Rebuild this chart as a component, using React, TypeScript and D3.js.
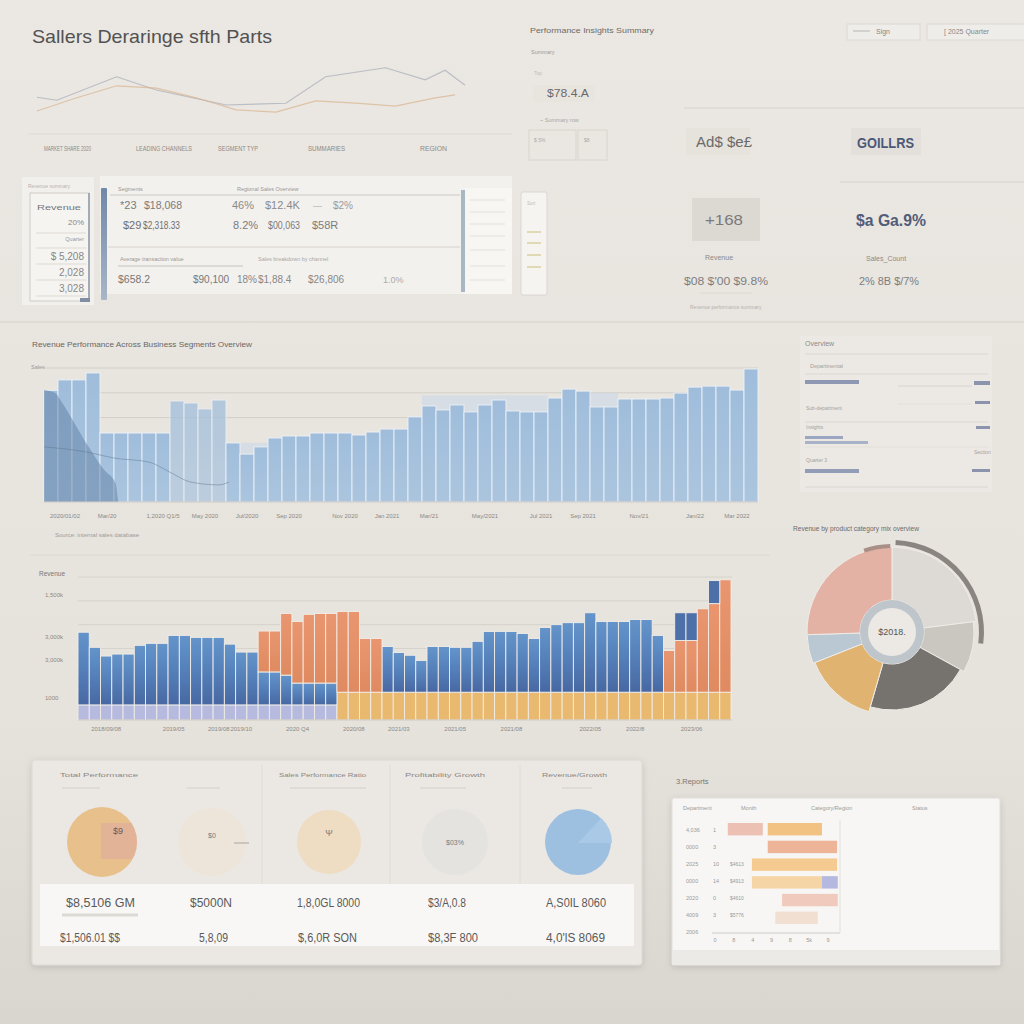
import React from "react";
import * as d3 from "d3";

const FONT = "'Liberation Sans', 'DejaVu Sans', Arial, sans-serif";

// ---------- Top trend lines ----------
const trendDaysA = [0, 4, 8, 12, 16, 20, 24, 28, 32, 36, 40, 42];
const trendValuesA = [15, 37, 57, 53, 37, 17, 13, 32, 28, 23, 37, 42];
const trendDaysB = [0, 2, 8, 12, 19, 25, 29, 35, 39, 41, 43];
const trendValuesB = [38, 33, 72, 50, 25, 28, 72, 87, 67, 83, 58];

// ---------- Sales histogram ----------
const salesBars = [
  4500, 4920, 4920, 5200, 2780, 2780, 2780, 2780, 2780, 4070,
  3990, 3750, 4110, 2380, 1930, 2220, 2580, 2660, 2660, 2780,
  2780, 2780, 2700, 2820, 2940, 2940, 3430, 3870, 3710, 3910,
  3630, 3910, 4110, 3670, 3630, 3630, 4190, 4550, 4470, 3830,
  3830, 4150, 4150, 4150, 4190, 4390, 4630, 4670, 4670, 4510,
  5360,
];
const salesGhost = [
  0, 0, 0, 0, 0, 0, 0, 0, 0, 0,
  0, 0, 0, 2380, 2380, 2380, 0, 0, 0, 0,
  0, 0, 0, 0, 0, 0, 0, 4300, 4300, 4300,
  4300, 4300, 4300, 4300, 4300, 4300, 0, 0, 0, 4400,
  4400, 0, 0, 0, 0, 0, 0, 0, 0, 0,
  0,
];
const overlayPos = [0, 0.8, 1.3, 3.1, 4.3, 5.1, 5.3];
const overlayVals = [4510, 4390, 3990, 2300, 1290, 770, 0];
const baseTrendPos = [0, 3, 5, 7.5, 9, 10.5, 12.5, 13.2];
const baseTrendVals = [2220, 2020, 1770, 1610, 1200, 800, 690, 800];
const salesGrid = [3400, 4400, 5400];
const salesLabelIdx = [1, 4, 8, 11, 14, 17, 21, 24, 27, 31, 35, 38, 42, 46, 49];
const salesLabels = [
  "2020/01/02", "Mar/20", "1,2020 Q1/5", "May 2020", "Jul/2020", "Sep 2020", "Nov 2020",
  "Jan 2021", "Mar/21", "May/2021", "Jul 2021", "Sep 2021", "Nov/21", "Jan/22", "Mar 2022",
];

// ---------- Stacked revenue ----------
const stackLavender = [
  380, 380, 380, 380, 380, 380, 380, 380, 380, 380,
  380, 380, 380, 380, 380, 380, 380, 380, 380, 380,
  380, 380, 380, 0, 0, 0, 0, 0, 0, 0,
  0, 0, 0, 0, 0, 0, 0, 0, 0, 0,
  0, 0, 0, 0, 0, 0, 0, 0, 0, 0,
  0, 0, 0, 0, 0, 0, 0, 0,
];
const stackGold = [
  0, 0, 0, 0, 0, 0, 0, 0, 0, 0,
  0, 0, 0, 0, 0, 0, 0, 0, 0, 0,
  0, 0, 0, 700, 700, 700, 700, 700, 700, 700,
  700, 700, 700, 700, 700, 700, 700, 700, 700, 700,
  700, 700, 700, 700, 700, 700, 700, 700, 700, 700,
  700, 700, 700, 700, 700, 700, 700, 700,
];
const stackBlue = [
  1830, 1450, 1230, 1280, 1280, 1500, 1550, 1550, 1750, 1750,
  1700, 1700, 1700, 1530, 1330, 1330, 830, 830, 750, 550,
  550, 550, 550, 0, 0, 0, 0, 1150, 1000, 930,
  800, 1150, 1150, 1130, 1130, 1280, 1530, 1530, 1530, 1480,
  1350, 1630, 1700, 1750, 1750, 2000, 1780, 1780, 1780, 1830,
  1830, 1430, 0, 0, 0, 0, 0, 0,
];
const stackCoral = [
  0, 0, 0, 0, 0, 0, 0, 0, 0, 0,
  0, 0, 0, 0, 0, 0, 1030, 1030, 1550, 1550,
  1730, 1750, 1750, 2030, 2030, 1350, 1350, 0, 0, 0,
  0, 0, 0, 0, 0, 0, 0, 0, 0, 0,
  0, 0, 0, 0, 0, 0, 0, 0, 0, 0,
  0, 0, 1050, 1300, 1300, 2100, 2230, 2830,
];
const stackBlueTop = [
  0, 0, 0, 0, 0, 0, 0, 0, 0, 0,
  0, 0, 0, 0, 0, 0, 0, 0, 0, 0,
  0, 0, 0, 0, 0, 0, 0, 0, 0, 0,
  0, 0, 0, 0, 0, 0, 0, 0, 0, 0,
  0, 0, 0, 0, 0, 0, 0, 0, 0, 0,
  0, 0, 0, 700, 700, 0, 580, 0,
];
const revenueGrid = [1800, 2400, 3000, 3600];
const revenueTickVals = [3150, 2100, 1500, 550];
const revenueTickLabels = ["1,500k", "3,000k", "3,000k", "1000"];
const revenueLabelIdx = [2, 8, 12, 14, 19, 24, 28, 33, 38, 45, 49, 54];
const revenueLabels = [
  "2018/09/08", "2019/05", "2019/08", "2019/10", "2020 Q4", "2020/08",
  "2021/03", "2021/05", "2021/08", "2022/05", "2022/8", "2023/06",
];

// ---------- Donut ----------
const mixCategories = ["Services", "Hardware", "Software", "Accessories", "Support", "Licensing"];
const mixShares = [23, 10, 21.5, 14.5, 5.5, 25.5];

// ---------- KPI circles ----------
const kpiTitles = ["Total Performance", "", "Sales Performance Ratio", "Profitability Growth", "Revenue/Growth"];
const kpiRow1 = ["$8,5106 GM", "$5000N", "1,8,0GL 8000", "$3/A,0.8", "A,S0IL 8060"];
const kpiRow2 = ["$1,506.01 $$", "5,8,09", "$,6,0R SON", "$8,3F 800", "4,0'lS 8069"];

// ---------- Report heat table ----------
const reportRowLabels = ["4,036", "0000", "2025", "0000", "2020", "4009", "2006"];
const reportCounts = ["1", "3", "10", "14", "0", "3", ""];
const reportAmounts = ["", "", "$4613", "$4913", "$4610", "$5776", ""];
const reportTicks = [0, 5, 10, 15, 20, 25, 30];
const reportTickLabels = ["0", "8", "4", "9", "8", "5k", "9"];
const stripRow = [0, 0, 1, 2, 3, 3, 4, 5];
const stripFrom = [3.4, 14, 14, 9.8, 9.8, 28.4, 17.8, 16];
const stripTo = [12.7, 28.4, 32.4, 32.4, 28.4, 32.6, 32.6, 27.3];
const stripTone = ["#eab6a6", "#f1b86f", "#eca887", "#f3c27f", "#f5cf98", "#a9addb", "#efc3b3", "#f0dccb"];

export default function App() {
  // ---- top trend ----
  const lx = d3.scaleLinear().domain([0, 44]).range([37, 475]);
  const ly = d3.scaleLinear().domain([0, 100]).range([120, 60]);
  const lineA = d3.line<number>().x((d, i) => lx(trendDaysA[i])).y((d) => ly(d)).curve(d3.curveLinear)(trendValuesA);
  const lineB = d3.line<number>().x((d, i) => lx(trendDaysB[i])).y((d) => ly(d)).curve(d3.curveLinear)(trendValuesB);

  // ---- sales histogram ----
  const sx = d3.scaleBand<number>().domain(d3.range(salesBars.length)).range([44, 758]).padding(0);
  const sk = d3.scaleLinear().domain([0, salesBars.length]).range([44, 758]);
  const sy = d3.scaleLinear().domain([0, 5400]).range([502, 368]);
  const overlayArea = d3
    .area<number>()
    .x((d, i) => sk(overlayPos[i]))
    .y0(sy(0))
    .y1((d) => sy(d))
    .curve(d3.curveMonotoneX)(overlayVals);
  const baseTrend = d3
    .line<number>()
    .x((d, i) => sk(baseTrendPos[i]))
    .y((d) => sy(d))
    .curve(d3.curveMonotoneX)(baseTrendVals);

  // ---- stacked ----
  const rows = stackBlue.map((_, i) => ({
    lav: stackLavender[i],
    gold: stackGold[i],
    blue: stackBlue[i],
    coral: stackCoral[i],
    blueTop: stackBlueTop[i],
  }));
  const keys = ["lav", "gold", "blue", "coral", "blueTop"];
  const fills: Record<string, string> = {
    lav: "#b6badf",
    gold: "#e9b96f",
    blue: "url(#gStackBlue)",
    coral: "url(#gCoral)",
    blueTop: "#4d70a8",
  };
  const stacked = d3.stack<any>().keys(keys)(rows);
  const rx = d3.scaleBand<number>().domain(d3.range(rows.length)).range([78, 731]).padding(0);
  const ry = d3.scaleLinear().domain([0, 3600]).range([720, 577]);

  // ---- donut ----
  const pie = d3.pie<number>().sort(null).startAngle(0).endAngle(2 * Math.PI).value((d) => d)(mixShares);
  const mixColors = ["#dddad5", "#cac7c0", "#76736f", "#e0b470", "#bac8d4", "#e3b2a4"];
  const mixOuter = [85, 82, 78, 83, 85, 85];
  const arcFor = (i: number) => d3.arc<any>().innerRadius(32).outerRadius(mixOuter[i]);
  const ringArc = d3.arc<any>().innerRadius(87).outerRadius(92).startAngle(0.04).endAngle(1.7)({});
  const smallArc = d3.arc<any>().innerRadius(84).outerRadius(88).startAngle(-0.33).endAngle(-0.02)({});

  // ---- report ----
  const hx = d3.scaleLinear().domain([0, 30]).range([715, 828]);
  const hy = d3.scaleBand<number>().domain(d3.range(6)).range([823, 924]).paddingInner(0.3);

  const kpiCx = [102, 212, 329, 455, 578];
  const kpiColors = ["#e8c08c", "#ede5da", "#eedcc3", "#e5e3e0", "#9dc0e0"];
  const kpiR = [35, 34, 32, 33, 33];
  const kpiRow1X = [66, 190, 297, 428, 546];
  const kpiRow1W = [69, 42, 63, 38, 60];
  const kpiRow2X = [60, 199, 298, 428, 546];
  const kpiRow2W = [60, 29, 59, 50, 59];
  const kpiTitleX = [60, 0, 279, 405, 542];
  const kpiTitleW = [78, 0, 87, 80, 65];

  const T = (p: any) => <text fontFamily={FONT} {...p} />;

  return (
    <svg width={1024} height={1024} style={{ position: "absolute", left: 0, top: 0, display: "block" }}>
      <defs>
        <linearGradient id="bg" x1="0" y1="0" x2="0" y2="1">
          <stop offset="0" stopColor="#ebe7e2" />
          <stop offset="0.7" stopColor="#e6e2dc" />
          <stop offset="1" stopColor="#d9d5cf" />
        </linearGradient>
        <linearGradient id="gSales" x1="0" y1="0" x2="0" y2="1">
          <stop offset="0" stopColor="#9fbddb" />
          <stop offset="1" stopColor="#abc5de" />
        </linearGradient>
        <linearGradient id="gStackBlue" x1="0" y1="0" x2="0" y2="1">
          <stop offset="0" stopColor="#6494ca" />
          <stop offset="0.45" stopColor="#5682bc" />
          <stop offset="1" stopColor="#4768a2" />
        </linearGradient>
        <linearGradient id="gCoral" x1="0" y1="0" x2="0" y2="1">
          <stop offset="0" stopColor="#e99670" />
          <stop offset="1" stopColor="#df8a60" />
        </linearGradient>
        <linearGradient id="gBar" x1="0" y1="0" x2="0" y2="1">
          <stop offset="0" stopColor="#7088a8" />
          <stop offset="1" stopColor="#a8b6c8" />
        </linearGradient>
        <filter id="sh" x="-5%" y="-10%" width="110%" height="125%">
          <feDropShadow dx="0" dy="2" stdDeviation="3" floodColor="#000" floodOpacity="0.13" />
        </filter>
        <clipPath id="c1clip">
          <circle cx={102} cy={842} r={35} />
        </clipPath>
      </defs>

      <rect x={0} y={0} width={1024} height={1024} fill="url(#bg)" />

      {/* ================= TOP LEFT ================= */}
      <T x={32} y={43} fontSize={19} fill="#525252" textLength={240} lengthAdjust="spacingAndGlyphs">
        Sallers  Deraringe sfth Parts
      </T>
      <path d={lineB || ""} fill="none" stroke="#9aa2b0" strokeWidth={1.1} opacity={0.6} />
      <path d={lineA || ""} fill="none" stroke="#d8b48e" strokeWidth={1.2} opacity={0.7} />
      <line x1={28} x2={512} y1={134} y2={134} stroke="#ddd9d3" />
      {[
        ["MARKET SHARE 2020", 44, 47],
        ["LEADING CHANNELS", 136, 56],
        ["SEGMENT TYP", 218, 40],
        ["SUMMARIES", 308, 37],
        ["REGION", 420, 27],
      ].map(([t, x, w], i) => (
        <T key={i} x={x} y={151} fontSize={6.5} fill="#8d8a86" textLength={w} lengthAdjust="spacingAndGlyphs">
          {t}
        </T>
      ))}

      {/* table card */}
      <rect x={22} y={177} width={72} height={128} fill="#f2f0ed" />
      <T x={28} y={188} fontSize={5} fill="#b5b1ac">Revenue summary</T>
      <rect x={30} y={193} width={59} height={108} fill="#f6f4f1" stroke="#cfcbc6" strokeWidth={1} />
      <line x1={89} x2={89} y1={193} y2={301} stroke="#8f9aab" strokeWidth={1.5} />
      <rect x={80} y={298} width={10} height={4} fill="#7f8ea3" />
      <T x={37} y={210} fontSize={7} fill="#777" textLength={44} lengthAdjust="spacingAndGlyphs">Revenue</T>
      <T x={84} y={225} fontSize={8} fill="#888" textAnchor="end">20%</T>
      <line x1={36} x2={86} y1={233} y2={233} stroke="#dedad5" />
      <T x={84} y={241} fontSize={5.5} fill="#999" textAnchor="end">Quarter</T>
      <line x1={36} x2={86} y1={248} y2={248} stroke="#dedad5" />
      <T x={84} y={260} fontSize={10} fill="#888" textAnchor="end">$ 5,208</T>
      <line x1={36} x2={86} y1={264} y2={264} stroke="#dedad5" />
      <T x={84} y={276} fontSize={10} fill="#888" textAnchor="end">2,028</T>
      <line x1={36} x2={86} y1={280} y2={280} stroke="#dedad5" />
      <T x={84} y={292} fontSize={10} fill="#888" textAnchor="end">3,028</T>
      <line x1={36} x2={86} y1={296} y2={296} stroke="#dedad5" />

      <rect x={100} y={176} width={412} height={118} fill="#f3f1ee" />
      <rect x={101} y={188} width={6} height={112} fill="url(#gBar)" rx={1} />
      <T x={118} y={191} fontSize={5.5} fill="#9a9792">Segments</T>
      <T x={237} y={191} fontSize={5.5} fill="#9a9792">Regional Sales Overview</T>
      <line x1={110} x2={460} y1={195} y2={195} stroke="#cdc9c3" />
      <T x={120} y={209} fontSize={11} fill="#7b7b7b">*23</T>
      <T x={144} y={209} fontSize={11} fill="#7b7b7b" textLength={38} lengthAdjust="spacingAndGlyphs">$18,068</T>
      <T x={232} y={209} fontSize={11} fill="#8a8a8a">46%</T>
      <T x={265} y={209} fontSize={11} fill="#8a8a8a">$12.4K</T>
      <T x={313} y={209} fontSize={9} fill="#aaa">—</T>
      <T x={333} y={209} fontSize={10} fill="#9a9a9a">$2%</T>
      <T x={123} y={229} fontSize={11} fill="#6f6f6f">$29</T>
      <T x={143} y={229} fontSize={11} fill="#6f6f6f" textLength={37} lengthAdjust="spacingAndGlyphs">$2,318.33</T>
      <T x={233} y={229} fontSize={11} fill="#7b7b7b">8.2%</T>
      <T x={268} y={229} fontSize={11} fill="#7b7b7b" textLength={32} lengthAdjust="spacingAndGlyphs">$00,063</T>
      <T x={312} y={229} fontSize={11} fill="#7b7b7b">$58R</T>
      <line x1={108} x2={460} y1={247} y2={247} stroke="#d6d2cc" />
      <T x={120} y={261} fontSize={5.5} fill="#9a9792">Average transaction value</T>
      <line x1={118} x2={243} y1={266} y2={266} stroke="#c8c4be" />
      <T x={258} y={261} fontSize={5.5} fill="#aaa7a2">Sales breakdown by channel</T>
      <T x={118} y={283} fontSize={10} fill="#777" textLength={32} lengthAdjust="spacingAndGlyphs">$658.2</T>
      <T x={193} y={283} fontSize={10} fill="#777">$90,100</T>
      <T x={237} y={283} fontSize={10} fill="#888">18%</T>
      <T x={258} y={283} fontSize={10} fill="#888">$1,88.4</T>
      <T x={308} y={283} fontSize={10} fill="#888">$26,806</T>
      <T x={383} y={283} fontSize={9} fill="#aaa">1.0%</T>
      <rect x={461} y={190} width={4} height={102} fill="#a8b6c6" />
      <rect x={465} y={188} width={47} height={106} fill="#f7f6f3" />
      {[200, 212, 224, 236, 250, 266, 280].map((y, i) => (
        <line key={i} x1={470} x2={505} y1={y} y2={y} stroke="#e2dfda" />
      ))}
      <rect x={521} y={192} width={26} height={103} fill="#f5f4f1" stroke="#dad7d2" rx={2} />
      {[232, 243, 255, 267].map((y, i) => (
        <line key={i} x1={527} x2={541} y1={y} y2={y} stroke="#d9d19e" strokeWidth={1.5} />
      ))}
      <T x={527} y={205} fontSize={4.5} fill="#bbb">Sort</T>

      {/* ================= TOP RIGHT ================= */}
      <T x={530} y={33} fontSize={7.5} fill="#6d6b68" textLength={124} lengthAdjust="spacingAndGlyphs">
        Performance Insights Summary
      </T>
      <T x={531} y={54} fontSize={5.5} fill="#9e9b97">Summary</T>
      <T x={534} y={75} fontSize={5} fill="#c3c0bb">Tsp</T>
      <rect x={533} y={85} width={62} height={17} fill="#e8e4de" />
      <T x={547} y={97} fontSize={11} fill="#6b6b6b" textLength={42} lengthAdjust="spacingAndGlyphs">$78.4.A</T>
      <T x={540} y={122} fontSize={5.5} fill="#aaa7a2">~ Summary row</T>
      <rect x={529} y={130} width={47} height={30} fill="none" stroke="#d8d4ce" />
      <rect x={578} y={130} width={29} height={30} fill="none" stroke="#d8d4ce" />
      <T x={534} y={142} fontSize={5} fill="#aaa">$ 5%</T>
      <T x={584} y={142} fontSize={5} fill="#aaa">$8</T>
      <line x1={684} x2={1024} y1={108} y2={108} stroke="#d6d2cc" />
      <line x1={840} x2={1024} y1={182} y2={182} stroke="#d6d2cc" />
      <rect x={847} y={24} width={73} height={16} fill="#efedea" stroke="#dcd8d2" />
      <line x1={853} x2={870} y1={31} y2={31} stroke="#b8b5b0" />
      <T x={876} y={34} fontSize={7} fill="#8a8783">Sign</T>
      <rect x={927} y={24} width={100} height={16} fill="#efedea" stroke="#dcd8d2" />
      <T x={944} y={34} fontSize={7} fill="#8a8783">[ 2025 Quarter</T>
      <rect x={686} y={128} width={64} height={27} fill="#e6e2dc" />
      <T x={696} y={147} fontSize={14} fill="#6a6a6a" textLength={56} lengthAdjust="spacingAndGlyphs">Ad$ $e£</T>
      <rect x={851} y={128} width={70} height={27} fill="#e3e0db" />
      <T x={857} y={148} fontSize={14} fontWeight="bold" fill="#4b5877" textLength={57} lengthAdjust="spacingAndGlyphs">
        GOILLRS
      </T>
      <rect x={692} y={198} width={68} height={43} fill="#dcd8d2" />
      <T x={705} y={225} fontSize={15} fill="#7a7a7a" textLength={38} lengthAdjust="spacingAndGlyphs">+168</T>
      <T x={856} y={226} fontSize={17} fontWeight="bold" fill="#505c79" textLength={70} lengthAdjust="spacingAndGlyphs">
        $a Ga.9%
      </T>
      <T x={705} y={260} fontSize={7} fill="#8d8a86">Revenue</T>
      <T x={866} y={261} fontSize={7} fill="#8d8a86">Sales_Count</T>
      <T x={684} y={285} fontSize={10} fill="#7e7e7e" textLength={84} lengthAdjust="spacingAndGlyphs">$08  $'00  $9.8%</T>
      <T x={859} y={285} fontSize={10} fill="#7e7e7e" textLength={60} lengthAdjust="spacingAndGlyphs">2% 8B  $/7%</T>
      <line x1={700} x2={752} y1={293} y2={293} stroke="#dcd8d2" />
      <T x={690} y={309} fontSize={5} fill="#b5b2ad">Revenue performance summary</T>

      {/* section divider */}
      <line x1={0} x2={1024} y1={322} y2={322} stroke="#d4d0ca" />

      {/* ================= SALES HISTOGRAM ================= */}
      <T x={32} y={347} fontSize={7.5} fill="#6a6865" textLength={220} lengthAdjust="spacingAndGlyphs">
        Revenue Performance Across Business Segments Overview
      </T>
      <T x={31} y={369} fontSize={5.5} fill="#9a9792">Sales</T>
      {salesGrid.map((v) => (
        <line key={v} x1={44} x2={758} y1={sy(v)} y2={sy(v)} stroke="#d2cec8" />
      ))}
      {salesGhost.map((v, i) =>
        v > 0 ? (
          <rect key={"g" + i} x={sx(i)} y={sy(v)} width={sx.bandwidth()} height={sy(0) - sy(v)} fill="#c9d8e7" opacity={0.6} />
        ) : null
      )}
      {salesBars.map((v, i) => (
        <rect
          key={i}
          x={sx(i)}
          y={sy(v)}
          width={sx.bandwidth()}
          height={sy(0) - sy(v)}
          fill="url(#gSales)"
          stroke="#edf1f5"
          strokeWidth={0.9}
          opacity={i >= 9 && i <= 12 ? 0.72 : 1}
        />
      ))}
      <path d={overlayArea || ""} fill="#5d7ea3" opacity={0.5} />
      <path d={baseTrend || ""} fill="none" stroke="#5f7590" strokeWidth={0.8} opacity={0.6} />
      <line x1={44} x2={758} y1={502} y2={502} stroke="#c9c5bf" />
      {salesLabelIdx.map((idx, i) => (
        <T key={i} x={(sx(idx) || 0) + sx.bandwidth() / 2} y={518} fontSize={6} fill="#8d8a86" textAnchor="middle">
          {salesLabels[i]}
        </T>
      ))}
      <T x={55} y={537} fontSize={6} fill="#a09d98">Source: internal sales database</T>
      <line x1={30} x2={770} y1={555} y2={555} stroke="#dcd8d2" />

      {/* ================= STACKED REVENUE ================= */}
      <T x={39} y={576} fontSize={6.5} fill="#7b7875">Revenue</T>
      {revenueGrid.map((v) => (
        <line key={v} x1={78} x2={732} y1={ry(v)} y2={ry(v)} stroke="#d6d2cc" />
      ))}
      {revenueTickVals.map((v, i) => (
        <T key={i} x={45} y={ry(v) + 2} fontSize={6} fill="#8d8a86">
          {revenueTickLabels[i]}
        </T>
      ))}
      {stacked.map((s) => (
        <g key={s.key}>
          {s.map((d, i) =>
            d[1] - d[0] > 0 ? (
              <rect
                key={i}
                x={rx(i)}
                y={ry(d[1])}
                width={rx.bandwidth()}
                height={ry(d[0]) - ry(d[1])}
                fill={fills[s.key]}
                stroke="#f1ede7"
                strokeWidth={0.9}
              />
            ) : null
          )}
        </g>
      ))}
      <line x1={78} x2={732} y1={720} y2={720} stroke="#c9c5bf" />
      {revenueLabelIdx.map((idx, i) => (
        <T key={i} x={(rx(idx) || 0) + rx.bandwidth() / 2} y={731} fontSize={6} fill="#8d8a86" textAnchor="middle">
          {revenueLabels[i]}
        </T>
      ))}

      {/* ================= RIGHT LIST ================= */}
      <rect x={800} y={336} width={192} height={156} fill="#ece9e4" />
      <T x={805} y={346} fontSize={7} fill="#8d8a86">Overview</T>
      <line x1={805} x2={988} y1={354} y2={354} stroke="#dad6d0" />
      <T x={810} y={368} fontSize={5.5} fill="#a3a09b">Departmental</T>
      <line x1={805} x2={988} y1={374} y2={374} stroke="#dad6d0" />
      <rect x={805} y={380} width={54} height={4} fill="#8e98b3" />
      <line x1={898} x2={972} y1={386} y2={386} stroke="#d6d3cf" />
      <rect x={974} y={381} width={16} height={4} fill="#8c93ad" />
      <line x1={898} x2={972} y1={404} y2={404} stroke="#e1ded9" />
      <rect x={975} y={401} width={15} height={3} fill="#8c93ad" />
      <T x={806} y={410} fontSize={5} fill="#a3a09b">Sub-department</T>
      <line x1={805} x2={988} y1={422} y2={422} stroke="#dad6d0" />
      <T x={806} y={429} fontSize={5} fill="#a3a09b">Insights</T>
      <rect x={976} y={426} width={14} height={3} fill="#8c93ad" />
      <rect x={805} y={436} width={38} height={3} fill="#9aa6c2" />
      <rect x={805} y={441} width={63} height={3} fill="#a9b3c8" />
      <line x1={805} x2={988} y1={447} y2={447} stroke="#e1ded9" />
      <T x={974} y={454} fontSize={5} fill="#a3a09b">Section</T>
      <T x={806} y={462} fontSize={5} fill="#a3a09b">Quarter 3</T>
      <rect x={805} y={469} width={54} height={4} fill="#939cb6" />
      <rect x={972} y={469} width={18} height={3} fill="#8c93ad" />
      <line x1={805} x2={988} y1={487} y2={487} stroke="#dad6d0" />

      {/* ================= DONUT ================= */}
      <T x={793} y={531} fontSize={7.5} fill="#6d6b68" textLength={126} lengthAdjust="spacingAndGlyphs">
        Revenue by product category mix overview
      </T>
      <g transform="translate(892,632)">
        {pie.map((p, i) => (
          <path key={mixCategories[i]} d={arcFor(i)(p) || ""} fill={mixColors[i]} stroke="#efece7" strokeWidth={1} />
        ))}
        <path d={ringArc || ""} fill="#8a8580" />
        <path d={smallArc || ""} fill="#a88f87" />
        <circle r={32} fill="#bec5cb" />
        <circle r={24} fill="#ece9e4" />
        <T x={0} y={3} fontSize={9} fill="#555" textAnchor="middle">$2018.</T>
      </g>

      {/* ================= KPI CARD ================= */}
      <rect x={32} y={760} width={610} height={205} fill="#ebe8e3" stroke="#dcd8d2" filter="url(#sh)" rx={3} />
      {[262, 390, 520].map((x) => (
        <line key={x} x1={x} x2={x} y1={765} y2={884} stroke="#e0dcd6" />
      ))}
      {kpiTitles.map((t, i) =>
        t ? (
          <T key={i} x={kpiTitleX[i]} y={777} fontSize={6} fill="#8a8783" textLength={kpiTitleW[i]} lengthAdjust="spacingAndGlyphs">
            {t}
          </T>
        ) : null
      )}
      {[
        [62, 100],
        [187, 220],
        [290, 366],
        [420, 466],
        [562, 592],
      ].map(([a, b], i) => (
        <line key={i} x1={a} x2={b} y1={788} y2={788} stroke="#d3cfc9" />
      ))}
      {kpiCx.map((cx, i) => (
        <circle key={i} cx={cx} cy={842} r={kpiR[i]} fill={kpiColors[i]} />
      ))}
      <rect x={101} y={823} width={36} height={36} fill="#dea7a0" opacity={0.55} clipPath="url(#c1clip)" />
      <T x={118} y={834} fontSize={9} fill="#6a5a58" textAnchor="middle">$9</T>
      <T x={212} y={838} fontSize={7} fill="#777" textAnchor="middle">$0</T>
      <line x1={234} x2={249} y1={843} y2={843} stroke="#c9c6c2" strokeWidth={2} />
      <T x={329} y={836} fontSize={9} fill="#7a7a7a" textAnchor="middle">Ψ</T>
      <T x={455} y={845} fontSize={7} fill="#7a7a7a" textAnchor="middle">$03%</T>
      <path
        d={d3.arc<any>().innerRadius(0).outerRadius(34).startAngle(0.75).endAngle(1.57)({}) || ""}
        transform="translate(578,843)"
        fill="#a9c9e6"
      />
      <rect x={40} y={884} width={594} height={62} fill="#f8f7f5" />
      {kpiRow1.map((t, i) => (
        <T key={i} x={kpiRow1X[i]} y={907} fontSize={12} fill="#5a5a5a" textLength={kpiRow1W[i]} lengthAdjust="spacingAndGlyphs">
          {t}
        </T>
      ))}
      <line x1={62} x2={138} y1={915} y2={915} stroke="#dddad6" strokeWidth={3} />
      {kpiRow2.map((t, i) => (
        <T key={i} x={kpiRow2X[i]} y={942} fontSize={12} fill="#5a5a5a" textLength={kpiRow2W[i]} lengthAdjust="spacingAndGlyphs">
          {t}
        </T>
      ))}

      {/* ================= REPORT CARD ================= */}
      <T x={676} y={784} fontSize={7.5} fill="#777">3.Reports</T>
      <rect x={672} y={798} width={328} height={167} fill="#f7f6f4" stroke="#e0ddd8" filter="url(#sh)" rx={2} />
      <rect x={672} y={950} width={328} height={15} fill="#eceae6" />
      <T x={683} y={810} fontSize={5.5} fill="#9d9a96">Department</T>
      <T x={741} y={810} fontSize={5.5} fill="#9d9a96">Month</T>
      <T x={811} y={810} fontSize={5.5} fill="#9d9a96">Category/Region</T>
      <T x={912} y={810} fontSize={5.5} fill="#9d9a96">Status</T>
      {stripRow.map((r, i) => (
        <rect
          key={i}
          x={hx(stripFrom[i])}
          y={hy(r) || 0}
          width={hx(stripTo[i]) - hx(stripFrom[i])}
          height={hy.bandwidth()}
          fill={stripTone[i]}
          opacity={0.85}
        />
      ))}
      {reportRowLabels.map((t, i) => (
        <T key={i} x={686} y={832 + i * 17} fontSize={5.5} fill="#9d9a96">
          {t}
        </T>
      ))}
      {reportCounts.map((t, i) => (
        <T key={i} x={713} y={832 + i * 17} fontSize={5.5} fill="#9d9a96">
          {t}
        </T>
      ))}
      {reportAmounts.map((t, i) => (
        <T key={i} x={730} y={832 + i * 17} fontSize={5} fill="#9d9a96">
          {t}
        </T>
      ))}
      <line x1={712} x2={840} y1={933} y2={933} stroke="#cfccc7" />
      <line x1={840} x2={840} y1={820} y2={933} stroke="#e3e0dc" />
      {reportTicks.map((v, i) => (
        <T key={i} x={hx(v)} y={942} fontSize={5.5} fill="#9d9a96" textAnchor="middle">
          {reportTickLabels[i]}
        </T>
      ))}
    </svg>
  );
}
